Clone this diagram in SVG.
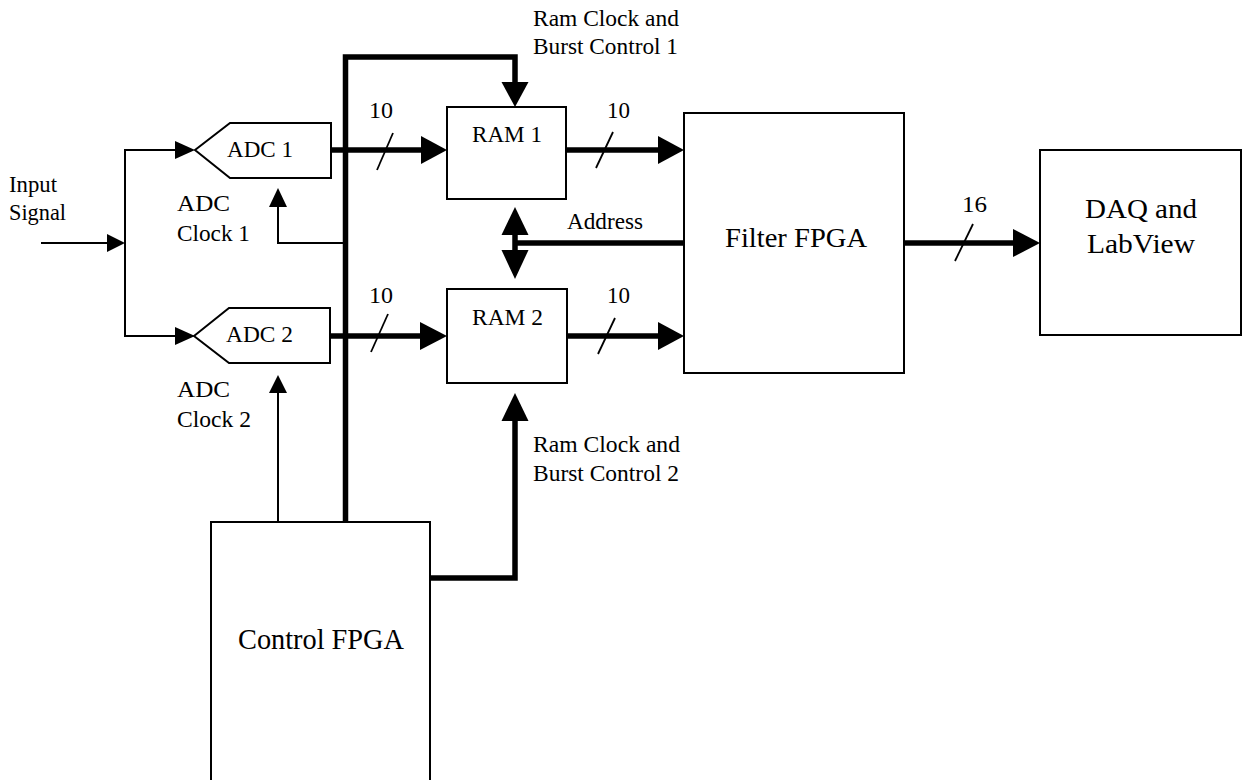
<svg xmlns="http://www.w3.org/2000/svg" width="1243" height="780" viewBox="0 0 1243 780">
<style>
.box{fill:#fff;stroke:#000;stroke-width:2}
.thin{fill:none;stroke:#000;stroke-width:2}
.slash{fill:none;stroke:#000;stroke-width:1.8}
.thick{fill:none;stroke:#000;stroke-width:5.5;stroke-linejoin:miter}
.head{fill:#000;stroke:none}
.t{font-family:'Liberation Serif','Times New Roman','DejaVu Serif',serif;font-size:23px;fill:#000}
.big{font-size:28px}
</style>
<rect width="1243" height="780" fill="#fff"/>
<g id="connectors">
  <line class="thin" x1="41" y1="243" x2="108" y2="243"/>
  <polygon class="head" points="107,234 125,243 107,252"/>
  <line class="thin" x1="125" y1="149" x2="125" y2="337"/>
  <line class="thin" x1="124" y1="150" x2="176" y2="150"/>
  <polygon class="head" points="175,141 195,150 175,159"/>
  <line class="thin" x1="124" y1="336" x2="176" y2="336"/>
  <polygon class="head" points="175,327 195,336 175,345"/>
  <polyline class="thin" points="345,243 278,243 278,206"/>
  <polygon class="head" points="269,207 287,207 278,188"/>
  <line class="thin" x1="278" y1="522" x2="278" y2="392"/>
  <polygon class="head" points="269,393 287,393 278,375"/>
  <polyline class="thick" points="345.5,522 345.5,57 515,57 515,83"/>
  <polygon class="head" points="501.5,82 528.5,82 515,107"/>
  <line class="thick" x1="331" y1="150" x2="422" y2="150"/>
  <polygon class="head" points="421,136 447,150 421,164"/>
  <line class="thick" x1="330" y1="336" x2="421" y2="336"/>
  <polygon class="head" points="420,322 447,336 420,350"/>
  <line class="thick" x1="566" y1="150" x2="659" y2="150"/>
  <polygon class="head" points="658,136 684,150 658,164"/>
  <line class="thick" x1="567" y1="336" x2="659" y2="336"/>
  <polygon class="head" points="658,322 684,336 658,350"/>
  <line class="thick" x1="515" y1="243" x2="684" y2="243"/>
  <line class="thick" x1="515" y1="234" x2="515" y2="251"/>
  <polygon class="head" points="501.5,235 528.5,235 515,207"/>
  <polygon class="head" points="501.5,250 528.5,250 515,279"/>
  <polyline class="thick" points="430,578 515,578 515,420"/>
  <polygon class="head" points="501.5,421 528.5,421 515,393"/>
  <line class="thick" x1="904" y1="243" x2="1014" y2="243"/>
  <polygon class="head" points="1013,229 1040,243 1013,257"/>
  <line class="slash" x1="377" y1="170" x2="393" y2="133"/>
  <line class="slash" x1="596" y1="168" x2="613" y2="132"/>
  <line class="slash" x1="371" y1="352" x2="388" y2="314"/>
  <line class="slash" x1="598" y1="354" x2="615" y2="318"/>
  <line class="slash" x1="955" y1="261" x2="973" y2="224"/>
  <text class="t" x="369" y="118" textLength="24" lengthAdjust="spacingAndGlyphs">10</text>
  <text class="t" x="607" y="118" textLength="23" lengthAdjust="spacingAndGlyphs">10</text>
  <text class="t" x="369" y="303" textLength="24" lengthAdjust="spacingAndGlyphs">10</text>
  <text class="t" x="607" y="303" textLength="23" lengthAdjust="spacingAndGlyphs">10</text>
  <text class="t" x="962" y="212" textLength="25" lengthAdjust="spacingAndGlyphs">16</text>
  <text class="t" x="567" y="229" textLength="76" lengthAdjust="spacingAndGlyphs">Address</text>
  <text class="t" x="533" y="26" textLength="146" lengthAdjust="spacingAndGlyphs">Ram Clock and</text>
  <text class="t" x="533" y="54" textLength="145" lengthAdjust="spacingAndGlyphs">Burst Control 1</text>
  <text class="t" x="533" y="452" textLength="147" lengthAdjust="spacingAndGlyphs">Ram Clock and</text>
  <text class="t" x="533" y="481" textLength="146" lengthAdjust="spacingAndGlyphs">Burst Control 2</text>
  <text class="t" x="9" y="192" textLength="48" lengthAdjust="spacingAndGlyphs">Input</text>
  <text class="t" x="9" y="220" textLength="57" lengthAdjust="spacingAndGlyphs">Signal</text>
  <text class="t" x="177" y="211" textLength="53" lengthAdjust="spacingAndGlyphs">ADC</text>
  <text class="t" x="177" y="240.5" textLength="73" lengthAdjust="spacingAndGlyphs">Clock 1</text>
  <text class="t" x="177" y="397" textLength="53" lengthAdjust="spacingAndGlyphs">ADC</text>
  <text class="t" x="177" y="427" textLength="74" lengthAdjust="spacingAndGlyphs">Clock 2</text>
</g>
<g id="adc1">
  <polygon class="box" points="195,150 230,123 331,123 331,178 230,178"/>
  <text class="t" x="227" y="157" textLength="66" lengthAdjust="spacingAndGlyphs">ADC 1</text>
</g>
<g id="adc2">
  <polygon class="box" points="194,336 229,308 330,308 330,363 229,363"/>
  <text class="t" x="226" y="342" textLength="67" lengthAdjust="spacingAndGlyphs">ADC 2</text>
</g>
<g id="ram1">
  <rect class="box" x="447" y="107" width="119" height="92"/>
  <text class="t" x="472" y="142" textLength="70" lengthAdjust="spacingAndGlyphs">RAM 1</text>
</g>
<g id="ram2">
  <rect class="box" x="447" y="289" width="120" height="94"/>
  <text class="t" x="472" y="325" textLength="71" lengthAdjust="spacingAndGlyphs">RAM 2</text>
</g>
<g id="filter-fpga">
  <rect class="box" x="684" y="113" width="220" height="260"/>
  <text class="t big" x="725" y="247" textLength="142" lengthAdjust="spacingAndGlyphs">Filter FPGA</text>
</g>
<g id="daq">
  <rect class="box" x="1040" y="150" width="201" height="185"/>
  <text class="t big" x="1085" y="218" textLength="112" lengthAdjust="spacingAndGlyphs">DAQ and</text>
  <text class="t big" x="1087" y="253" textLength="108" lengthAdjust="spacingAndGlyphs">LabView</text>
</g>
<g id="control-fpga">
  <rect class="box" x="211" y="522" width="219" height="280"/>
  <text class="t big" x="238" y="649" textLength="166" lengthAdjust="spacingAndGlyphs" style="font-size:30px">Control FPGA</text>
</g>
</svg>
